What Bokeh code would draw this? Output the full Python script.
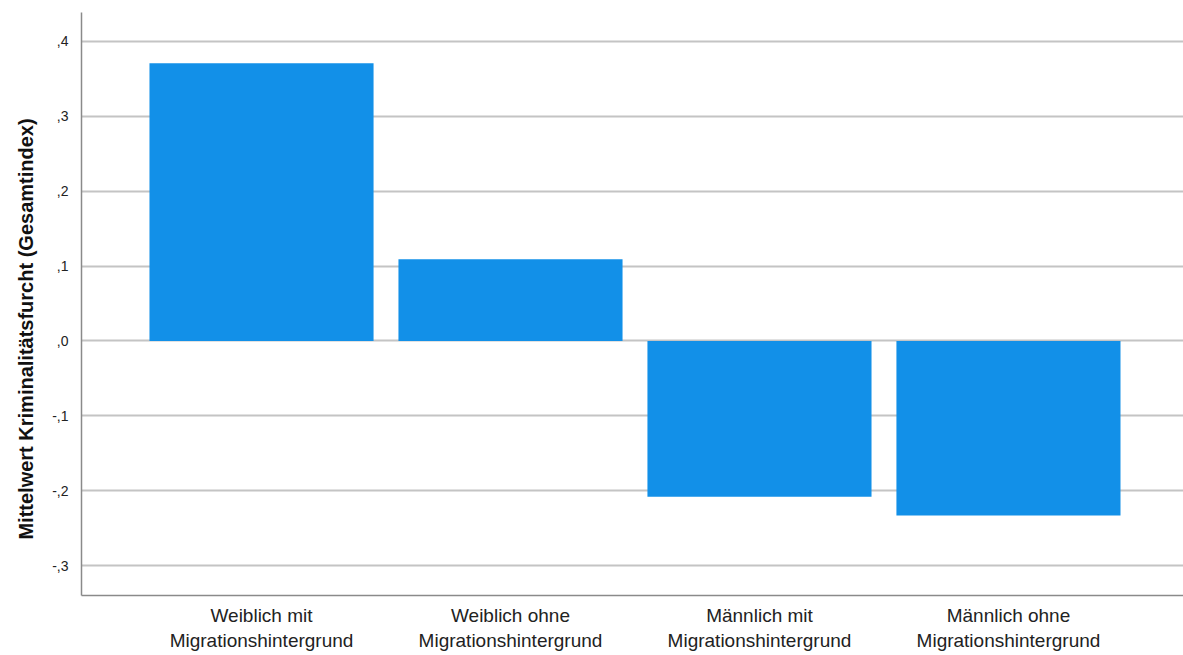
from bokeh.plotting import figure
from bokeh.models import Range1d, FixedTicker, ColumnDataSource
from bokeh.embed import file_html
from bokeh.resources import INLINE

categories = ["Weiblich mit\nMigrationshintergrund", "Weiblich ohne\nMigrationshintergrund",
              "Männlich mit\nMigrationshintergrund", "Männlich ohne\nMigrationshintergrund"]
values = [0.371, 0.109, -0.208, -0.233]
y_ticks = [-0.3, -0.2, -0.1, 0.0, 0.1, 0.2, 0.3, 0.4]
y_tick_labels = ["-,3", "-,2", "-,1", ",0", ",1", ",2", ",3", ",4"]
y_title = "Mittelwert Kriminalitätsfurcht (Gesamtindex)"

xs = list(range(len(categories)))
src = ColumnDataSource(dict(x=xs, top=values))

p = figure(width=1183, height=653, output_backend="svg", toolbar_location=None,
           x_range=Range1d(-0.723, 3.703), y_range=Range1d(-0.34, 0.4387),
           min_border_left=81, min_border_right=0, min_border_top=12, min_border_bottom=57)
p.outline_line_color = None
p.background_fill_color = "white"
p.border_fill_color = "white"

p.vbar(x="x", top="top", bottom=0, width=0.9, source=src, color="#1290e8", line_color=None)

p.xaxis.ticker = FixedTicker(ticks=xs)
p.xaxis.major_label_overrides = {i: c for i, c in enumerate(categories)}
p.xaxis.major_tick_line_color = None
p.xaxis.minor_tick_line_color = None
p.xaxis.axis_line_color = "#8a8a8a"
p.xaxis.axis_line_width = 1.5
p.xaxis.major_label_text_font = "Liberation Sans"
p.xaxis.major_label_text_font_size = "19px"
p.xaxis.major_label_text_color = "#222222"
p.xaxis.major_label_standoff = 3
p.xgrid.grid_line_color = None

p.yaxis.ticker = FixedTicker(ticks=y_ticks)
p.yaxis.major_label_overrides = {t: l for t, l in zip(y_ticks, y_tick_labels)}
p.yaxis.major_tick_line_color = None
p.yaxis.minor_tick_line_color = None
p.yaxis.axis_line_color = "#8a8a8a"
p.yaxis.axis_line_width = 1.5
p.yaxis.major_label_text_font = "Liberation Sans"
p.yaxis.major_label_text_font_size = "14px"
p.yaxis.major_label_text_color = "#222222"
p.yaxis.major_label_standoff = 7
p.yaxis.axis_label = y_title + "\u00a0" * 9
p.yaxis.axis_label_text_font = "Liberation Sans"
p.yaxis.axis_label_text_font_style = "bold"
p.yaxis.axis_label_text_font_size = "20px"
p.yaxis.axis_label_text_color = "#111111"
p.yaxis.axis_label_standoff = 12
p.ygrid.grid_line_color = "#c4c4c4"
p.ygrid.grid_line_width = 2

open("out.html", "w").write(file_html(p, INLINE))
